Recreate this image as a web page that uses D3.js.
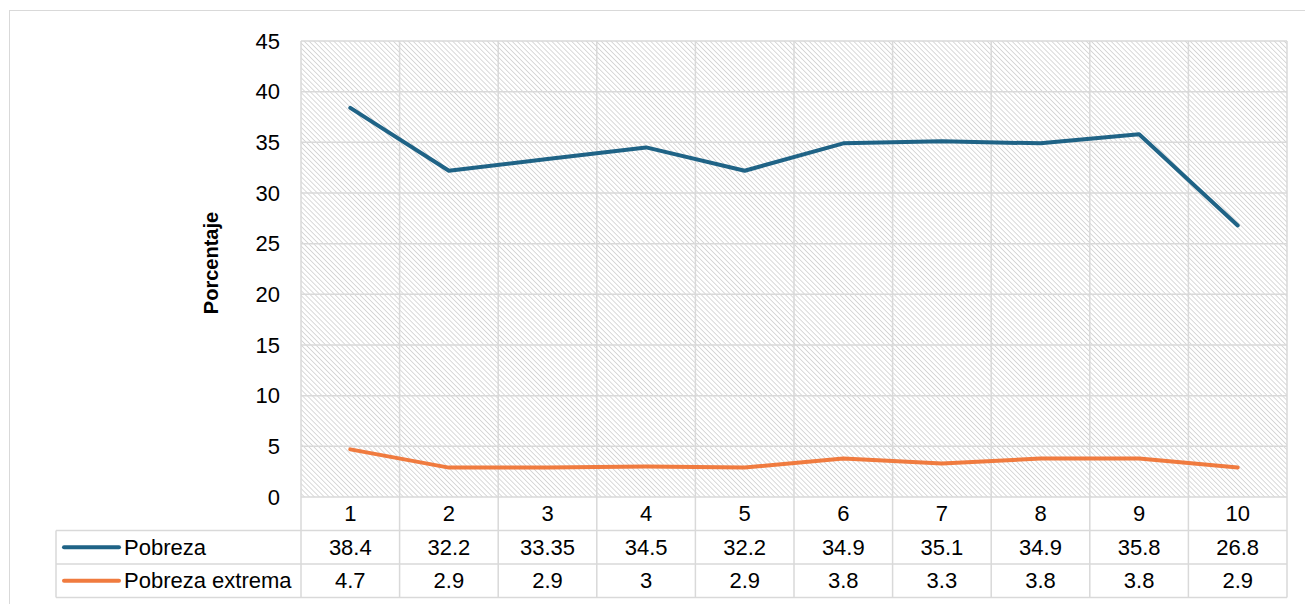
<!DOCTYPE html>
<html lang="es">
<head>
    <meta charset="UTF-8">
    <title>Pobreza</title>
    <script src="https://d3js.org/d3.v7.min.js"></script>
    <style>
        body { margin: 0; background: #fff; }
        svg { display: block; font-family: Arial, "Liberation Sans", sans-serif; }
    </style>
</head>
<body>
    <svg id="chart" width="1305" height="604"></svg>

    <script>
        // Data
        const categories = ["1", "2", "3", "4", "5", "6", "7", "8", "9", "10"];
        const pobreza = [38.4, 32.2, 33.35, 34.5, 32.2, 34.9, 35.1, 34.9, 35.8, 26.8];
        const pobrezaExtrema = [4.7, 2.9, 2.9, 3, 2.9, 3.8, 3.3, 3.8, 3.8, 2.9];
        const pobrezaLabels = ["38.4", "32.2", "33.35", "34.5", "32.2", "34.9", "35.1", "34.9", "35.8", "26.8"];
        const extremaLabels = ["4.7", "2.9", "2.9", "3", "2.9", "3.8", "3.3", "3.8", "3.8", "2.9"];
        const yTicks = [0, 5, 10, 15, 20, 25, 30, 35, 40, 45];

        const series = [
            { name: "Pobreza", values: pobreza, labels: pobrezaLabels, color: "#1f6386" },
            { name: "Pobreza extrema", values: pobrezaExtrema, labels: extremaLabels, color: "#f07b3f" }
        ];

        const svg = d3.select("#chart");
        const grid = "#d9d9d9";

        // layout
        const plotL = 301, plotR = 1287, plotT = 41, plotB = 497;
        const rowH = 33.5;
        const legendLeft = 56;
        const tableFont = 22;

        const x = d3.scaleBand().domain(categories).range([plotL, plotR]);
        const y = d3.scaleLinear().domain([0, 45]).range([plotB, plotT]);

        // hatch pattern (lines running top-left to bottom-right)
        const defs = svg.append("defs");
        const pat = defs.append("pattern")
            .attr("id", "hatch")
            .attr("patternUnits", "userSpaceOnUse")
            .attr("width", 3.5)
            .attr("height", 3.5)
            .attr("patternTransform", "rotate(-45)");
        pat.append("rect").attr("width", 3.5).attr("height", 3.5).attr("fill", "#fff");
        pat.append("line")
            .attr("x1", 0).attr("y1", 0).attr("x2", 0).attr("y2", 3.5)
            .attr("stroke", "#c6c6c6").attr("stroke-width", 1.3);

        // outer frame
        svg.append("rect")
            .attr("x", 9.5).attr("y", 10.5)
            .attr("width", 1310).attr("height", 610)
            .attr("fill", "none").attr("stroke", grid);

        // plot background
        svg.append("rect")
            .attr("x", plotL).attr("y", plotT)
            .attr("width", plotR - plotL).attr("height", plotB - plotT)
            .attr("fill", "url(#hatch)");

        // horizontal gridlines
        svg.append("g").selectAll("line")
            .data(yTicks)
            .join("line")
            .attr("x1", plotL).attr("x2", plotR)
            .attr("y1", d => y(d)).attr("y2", d => y(d))
            .attr("stroke", grid).attr("stroke-width", 1.5);

        // vertical gridlines (through plot and table)
        const tableBottom = plotB + rowH * 3;
        const bounds = categories.map(c => x(c)).concat([plotR]);
        svg.append("g").selectAll("line")
            .data(bounds)
            .join("line")
            .attr("x1", d => d).attr("x2", d => d)
            .attr("y1", plotT).attr("y2", tableBottom)
            .attr("stroke", grid).attr("stroke-width", 1.5);

        // table horizontal lines
        svg.append("g").selectAll("line")
            .data([1, 2, 3])
            .join("line")
            .attr("x1", legendLeft)
            .attr("x2", plotR)
            .attr("y1", d => plotB + rowH * d).attr("y2", d => plotB + rowH * d)
            .attr("stroke", grid).attr("stroke-width", 1.5);
        svg.append("line")
            .attr("x1", legendLeft).attr("x2", legendLeft)
            .attr("y1", plotB + rowH).attr("y2", tableBottom)
            .attr("stroke", grid).attr("stroke-width", 1.5);

        // y tick labels
        svg.append("g").selectAll("text")
            .data(yTicks)
            .join("text")
            .attr("x", 280)
            .attr("y", d => y(d))
            .attr("dy", "0.35em")
            .attr("text-anchor", "end")
            .attr("font-size", 22)
            .attr("fill", "#000")
            .text(d => d);

        // axis title
        svg.append("text")
            .attr("transform", `translate(218,${(plotT + plotB) / 2 - 6}) rotate(-90)`)
            .attr("text-anchor", "middle")
            .attr("font-size", 20)
            .attr("font-weight", "bold")
            .text("Porcentaje");

        // category row
        svg.append("g").selectAll("text")
            .data(categories)
            .join("text")
            .attr("x", d => x(d) + x.bandwidth() / 2)
            .attr("y", plotB + rowH / 2)
            .attr("dy", "0.35em")
            .attr("text-anchor", "middle")
            .attr("font-size", tableFont)
            .text(d => d);

        // lines
        const line = d3.line()
            .x((d, i) => x(categories[i]) + x.bandwidth() / 2)
            .y(d => y(d));

        series.forEach((s, k) => {
            svg.append("path")
                .datum(s.values)
                .attr("d", line)
                .attr("fill", "none")
                .attr("stroke", s.color)
                .attr("stroke-width", 4)
                .attr("stroke-linecap", "round")
                .attr("stroke-linejoin", "round");

            const rowY = plotB + rowH * (k + 1) + rowH / 2;

            // legend key in table
            svg.append("line")
                .attr("x1", 64).attr("x2", 119)
                .attr("y1", rowY).attr("y2", rowY)
                .attr("stroke", s.color)
                .attr("stroke-width", 4)
                .attr("stroke-linecap", "round");
            svg.append("text")
                .attr("x", 124)
                .attr("y", rowY)
                .attr("dy", "0.35em")
                .attr("font-size", tableFont)
                .text(s.name);

            // data values
            svg.append("g").selectAll("text")
                .data(s.labels)
                .join("text")
                .attr("x", (d, i) => x(categories[i]) + x.bandwidth() / 2)
                .attr("y", rowY)
                .attr("dy", "0.35em")
                .attr("text-anchor", "middle")
                .attr("font-size", tableFont)
                .text(d => d);
        });
    </script>
</body>
</html>
